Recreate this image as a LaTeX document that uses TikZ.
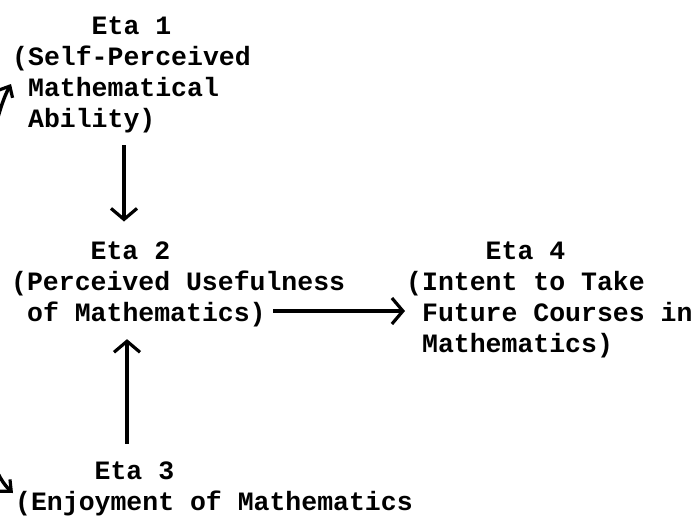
\documentclass[tikz,border=0pt]{standalone}
\usepackage{fontspec}
\newfontfamily\tw{Liberation Mono}
\usetikzlibrary{arrows.meta,calc}
\begin{document}
\begin{tikzpicture}[x=1pt,y=-1pt,
  lbl/.style={anchor=north west, align=left, inner sep=0pt,
    font=\tw\bfseries\fontsize{26.5pt}{31pt}\selectfont},
  arr/.style={line width=3.4pt, -{Straight Barb[length=11pt,width=26pt,line width=3.2pt]}},
  corr/.style={line width=3.4pt, {Straight Barb[length=9pt,width=16pt,line width=3.2pt]}-{Straight Barb[length=9pt,width=16pt,line width=3.2pt]}}]
\useasboundingbox (0,0) rectangle (696,523);
\fill[white] (0,0) rectangle (696,523);

\node[lbl] (eta1) at (12,16.5) {\hspace*{3em}Eta 1\\(Self-Perceived\\\hspace*{0.6em}Mathematical\\\hspace*{0.6em}Ability)};
\node[lbl] (eta2) at (11,241.5) {\hspace*{3em}Eta 2\\(Perceived Usefulness\\\hspace*{0.6em}of Mathematics)};
\node[lbl] (eta4) at (406,241.5) {\hspace*{3em}Eta 4\\(Intent to Take\\\hspace*{0.6em}Future Courses in\\\hspace*{0.6em}Mathematics)};
\node[lbl] (eta3) at (15,461.5) {\hspace*{3em}Eta 3\\(Enjoyment of Mathematics};

\coordinate (colA) at (124,0);
\coordinate (colB) at (127,0);
\coordinate (rowC) at (0,311);

\draw[arr] ($(eta1.south -| colA)+(0,12)$) -- ($(eta2.north -| colA)+(0,-20)$);
\draw[arr] ($(eta3.north -| colB)+(0,-18)$) -- ($(eta2.south -| colB)+(0,12)$);
\draw[arr] ($(eta2.west |- rowC)+(262,0)$) -- ($(eta4.west |- rowC)+(-1,0)$);

\coordinate (c1) at (11,84);
\coordinate (c3) at (13,493);
\begin{scope}
\clip (0,0) rectangle (696,523);
\draw[corr] (c3) .. controls (-45,440) and (-25,150) .. (c1);
\end{scope}
\end{tikzpicture}
\end{document}
